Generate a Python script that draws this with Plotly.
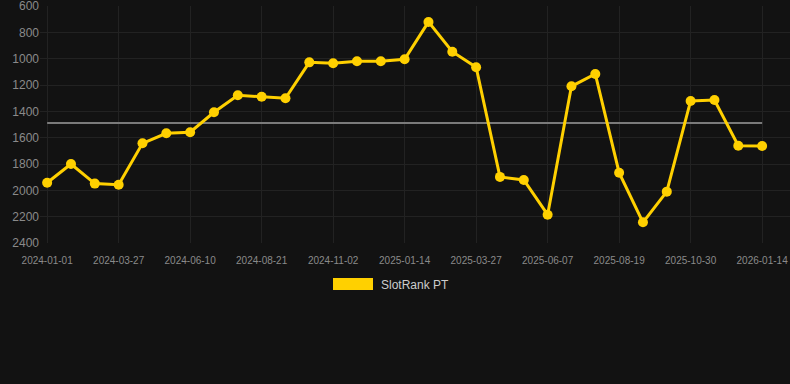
import plotly.graph_objects as go

dates = [
    "2024-01-01", "2024-01-29", "2024-02-28", "2024-03-27", "2024-04-21", "2024-05-16",
    "2024-06-10", "2024-07-04", "2024-07-28", "2024-08-21", "2024-09-14", "2024-10-08",
    "2024-11-02", "2024-11-26", "2024-12-20", "2025-01-14", "2025-02-07", "2025-03-03",
    "2025-03-27", "2025-04-20", "2025-05-14", "2025-06-07", "2025-07-01", "2025-07-25",
    "2025-08-19", "2025-09-12", "2025-10-06", "2025-10-30", "2025-11-24", "2025-12-19",
    "2026-01-14",
]
slotrank_pt = [
    1942, 1800, 1949, 1957, 1643, 1567, 1559, 1407, 1278, 1289, 1301, 1028,
    1035, 1020, 1020, 1005, 721, 947, 1065, 1898, 1921, 2185, 1210, 1116,
    1866, 2243, 2010, 1321, 1314, 1661, 1663,
]
average_value = 1488
average_line = [average_value] * len(dates)
tick_labels = dates[::3]
y_ticks = [600, 800, 1000, 1200, 1400, 1600, 1800, 2000, 2200, 2400]
series_name = "SlotRank PT"

GOLD = "#FFD000"
BG = "#121212"
GRID = "#222222"
TICK = "#8a8a8a"
FONT = "Liberation Sans, Arial, sans-serif"

fig = go.Figure()
fig.add_trace(go.Scatter(
    x=dates, y=average_line, mode="lines",
    line=dict(color="#7a7a7a", width=2),
    hoverinfo="skip", showlegend=False,
))
fig.add_trace(go.Scatter(
    x=dates, y=slotrank_pt, mode="lines+markers", name=series_name,
    line=dict(color=GOLD, width=3),
    marker=dict(color=GOLD, size=10),
    showlegend=False,
))

W, H = 790, 384
L, R, T, B = 40, 0, 6, 141
pw, ph = W - L - R, H - T - B


def px_x(p):
    return (p - L) / pw


def px_y(p):
    return (H - B - p) / ph


fig.add_shape(type="rect", xref="paper", yref="paper",
              x0=px_x(333), x1=px_x(373), y0=px_y(290), y1=px_y(278),
              fillcolor=GOLD, line=dict(width=0))
fig.add_annotation(xref="paper", yref="paper", x=px_x(379), y=px_y(284.5),
                   xanchor="left", yanchor="middle", showarrow=False,
                   text=series_name, font=dict(size=12, color="#cccccc", family=FONT))

fig.update_layout(
    width=W, height=H,
    margin=dict(l=L, r=R, t=T, b=B),
    paper_bgcolor=BG, plot_bgcolor=BG,
    font=dict(family=FONT, color=TICK),
    showlegend=False,
    xaxis=dict(
        type="category", range=[-0.3, 31.17],
        tickmode="array", tickvals=tick_labels, ticktext=tick_labels,
        showgrid=True, gridcolor=GRID, gridwidth=1,
        zeroline=False, showline=False,
        ticks="outside", ticklen=8, tickcolor="rgba(0,0,0,0)",
        tickfont=dict(size=10, color=TICK),
    ),
    yaxis=dict(
        range=[2400, 600], tickvals=y_ticks,
        showgrid=True, gridcolor=GRID, gridwidth=1,
        zeroline=False, showline=False,
        ticks="", ticklen=0,
        ticklabeloverflow="allow",
        tickfont=dict(size=12, color=TICK),
    ),
)

fig.write_html(
    "out.html",
    config={"displayModeBar": False},
    post_script="document.body.style.margin='0';document.body.style.background='#121212';",
)
